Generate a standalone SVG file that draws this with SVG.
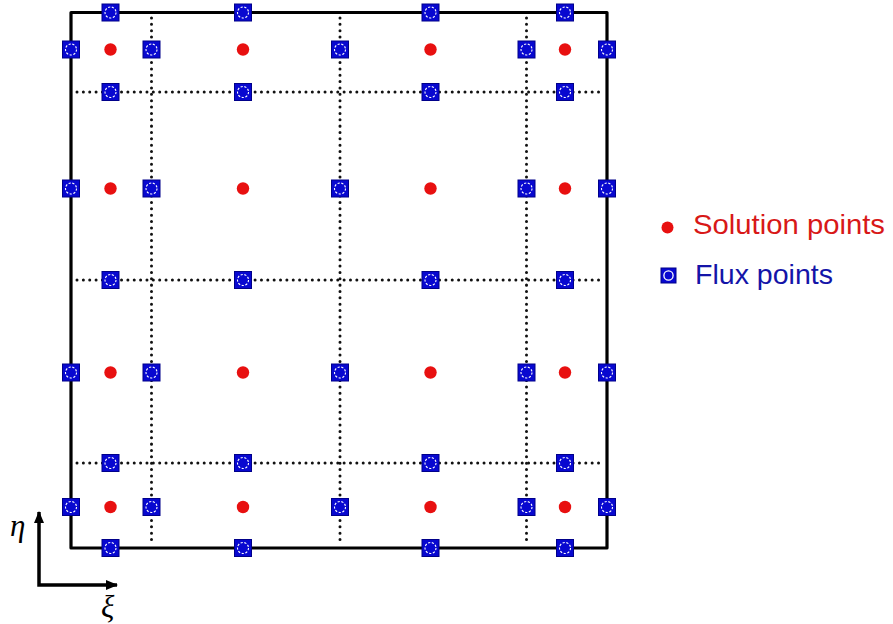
<svg xmlns="http://www.w3.org/2000/svg" xmlns:xlink="http://www.w3.org/1999/xlink" width="893" height="624" viewBox="0 0 893 624">
  <style>
    .sol { fill: #e81010; }
    .fluxsq { fill: #0808d0; stroke: #00008a; stroke-width: 1; }
    .fluxc { fill: none; stroke: #ffffff; stroke-width: 1.1; stroke-dasharray: 2.2 1.6; }
    .grid { fill: none; stroke: #111111; stroke-width: 3; stroke-linecap: round; stroke-dasharray: 0.01 6.35; }
    .border { fill: none; stroke: #000000; stroke-width: 3.2; stroke-linejoin: round; }
    .axis { fill: none; stroke: #000000; stroke-width: 3.5; }
    .leg { font-family: "Liberation Sans", Arial, sans-serif; font-size: 28px; }
    .greek { font-family: "Liberation Serif", "DejaVu Serif", serif; font-style: italic; font-size: 31px; fill: #000; }
  </style>
  <defs>
    <g id="flux">
      <rect class="fluxsq" x="-8.5" y="-8.5" width="17" height="17"/>
      <circle class="fluxc" cx="0" cy="0" r="5.5"/>
    </g>
    <marker id="arr" viewBox="0 0 12 10" refX="11" refY="5" markerWidth="12" markerHeight="10" markerUnits="userSpaceOnUse" orient="auto-start-reverse">
      <path d="M0,0 L12,5 L0,10 Z" fill="#000"/>
    </marker>
  </defs>
  <rect width="893" height="624" fill="#ffffff"/>

  <g id="connectors">
    <line class="grid" x1="151.5" y1="18" x2="151.5" y2="543"/>
    <line class="grid" x1="340" y1="18" x2="340" y2="543"/>
    <line class="grid" x1="526.5" y1="18" x2="526.5" y2="543"/>
    <line class="grid" x1="77" y1="92" x2="602" y2="92"/>
    <line class="grid" x1="77" y1="280" x2="602" y2="280"/>
    <line class="grid" x1="77" y1="463" x2="602" y2="463"/>
    <rect class="border" x="71" y="12.5" width="536" height="535.5"/>
    <polyline class="axis" points="39,512 39,585 117,585" marker-start="url(#arr)" marker-end="url(#arr)"/>
  </g>

  <g id="axis-labels">
    <text class="greek" x="10" y="536">η</text>
    <text class="greek" x="101" y="617">ξ</text>
  </g>

  <g id="solution-points">
    <g id="s11"><circle class="sol" cx="110.5" cy="49.5" r="6.2"/></g>
    <g id="s12"><circle class="sol" cx="243" cy="49.5" r="6.2"/></g>
    <g id="s13"><circle class="sol" cx="430.5" cy="49.5" r="6.2"/></g>
    <g id="s14"><circle class="sol" cx="565" cy="49.5" r="6.2"/></g>
    <g id="s21"><circle class="sol" cx="110.5" cy="188.5" r="6.2"/></g>
    <g id="s22"><circle class="sol" cx="243" cy="188.5" r="6.2"/></g>
    <g id="s23"><circle class="sol" cx="430.5" cy="188.5" r="6.2"/></g>
    <g id="s24"><circle class="sol" cx="565" cy="188.5" r="6.2"/></g>
    <g id="s31"><circle class="sol" cx="110.5" cy="372.5" r="6.2"/></g>
    <g id="s32"><circle class="sol" cx="243" cy="372.5" r="6.2"/></g>
    <g id="s33"><circle class="sol" cx="430.5" cy="372.5" r="6.2"/></g>
    <g id="s34"><circle class="sol" cx="565" cy="372.5" r="6.2"/></g>
    <g id="s41"><circle class="sol" cx="110.5" cy="507" r="6.2"/></g>
    <g id="s42"><circle class="sol" cx="243" cy="507" r="6.2"/></g>
    <g id="s43"><circle class="sol" cx="430.5" cy="507" r="6.2"/></g>
    <g id="s44"><circle class="sol" cx="565" cy="507" r="6.2"/></g>
  </g>

  <g id="flux-points">
    <g id="fh-0-1"><use xlink:href="#flux" href="#flux" x="110.5" y="12.5"/></g>
    <g id="fh-0-2"><use xlink:href="#flux" href="#flux" x="243" y="12.5"/></g>
    <g id="fh-0-3"><use xlink:href="#flux" href="#flux" x="430.5" y="12.5"/></g>
    <g id="fh-0-4"><use xlink:href="#flux" href="#flux" x="565" y="12.5"/></g>
    <g id="fh-1-1"><use xlink:href="#flux" href="#flux" x="110.5" y="92"/></g>
    <g id="fh-1-2"><use xlink:href="#flux" href="#flux" x="243" y="92"/></g>
    <g id="fh-1-3"><use xlink:href="#flux" href="#flux" x="430.5" y="92"/></g>
    <g id="fh-1-4"><use xlink:href="#flux" href="#flux" x="565" y="92"/></g>
    <g id="fh-2-1"><use xlink:href="#flux" href="#flux" x="110.5" y="280"/></g>
    <g id="fh-2-2"><use xlink:href="#flux" href="#flux" x="243" y="280"/></g>
    <g id="fh-2-3"><use xlink:href="#flux" href="#flux" x="430.5" y="280"/></g>
    <g id="fh-2-4"><use xlink:href="#flux" href="#flux" x="565" y="280"/></g>
    <g id="fh-3-1"><use xlink:href="#flux" href="#flux" x="110.5" y="463"/></g>
    <g id="fh-3-2"><use xlink:href="#flux" href="#flux" x="243" y="463"/></g>
    <g id="fh-3-3"><use xlink:href="#flux" href="#flux" x="430.5" y="463"/></g>
    <g id="fh-3-4"><use xlink:href="#flux" href="#flux" x="565" y="463"/></g>
    <g id="fh-4-1"><use xlink:href="#flux" href="#flux" x="110.5" y="548"/></g>
    <g id="fh-4-2"><use xlink:href="#flux" href="#flux" x="243" y="548"/></g>
    <g id="fh-4-3"><use xlink:href="#flux" href="#flux" x="430.5" y="548"/></g>
    <g id="fh-4-4"><use xlink:href="#flux" href="#flux" x="565" y="548"/></g>
    <g id="fv-1-0"><use xlink:href="#flux" href="#flux" x="71" y="49.5"/></g>
    <g id="fv-1-1"><use xlink:href="#flux" href="#flux" x="151.5" y="49.5"/></g>
    <g id="fv-1-2"><use xlink:href="#flux" href="#flux" x="340" y="49.5"/></g>
    <g id="fv-1-3"><use xlink:href="#flux" href="#flux" x="526.5" y="49.5"/></g>
    <g id="fv-1-4"><use xlink:href="#flux" href="#flux" x="607" y="49.5"/></g>
    <g id="fv-2-0"><use xlink:href="#flux" href="#flux" x="71" y="188.5"/></g>
    <g id="fv-2-1"><use xlink:href="#flux" href="#flux" x="151.5" y="188.5"/></g>
    <g id="fv-2-2"><use xlink:href="#flux" href="#flux" x="340" y="188.5"/></g>
    <g id="fv-2-3"><use xlink:href="#flux" href="#flux" x="526.5" y="188.5"/></g>
    <g id="fv-2-4"><use xlink:href="#flux" href="#flux" x="607" y="188.5"/></g>
    <g id="fv-3-0"><use xlink:href="#flux" href="#flux" x="71" y="372.5"/></g>
    <g id="fv-3-1"><use xlink:href="#flux" href="#flux" x="151.5" y="372.5"/></g>
    <g id="fv-3-2"><use xlink:href="#flux" href="#flux" x="340" y="372.5"/></g>
    <g id="fv-3-3"><use xlink:href="#flux" href="#flux" x="526.5" y="372.5"/></g>
    <g id="fv-3-4"><use xlink:href="#flux" href="#flux" x="607" y="372.5"/></g>
    <g id="fv-4-0"><use xlink:href="#flux" href="#flux" x="71" y="507"/></g>
    <g id="fv-4-1"><use xlink:href="#flux" href="#flux" x="151.5" y="507"/></g>
    <g id="fv-4-2"><use xlink:href="#flux" href="#flux" x="340" y="507"/></g>
    <g id="fv-4-3"><use xlink:href="#flux" href="#flux" x="526.5" y="507"/></g>
    <g id="fv-4-4"><use xlink:href="#flux" href="#flux" x="607" y="507"/></g>
  </g>

  <g id="legend">
    <g id="legend-solution">
      <circle class="sol" cx="667.5" cy="227.5" r="6"/>
      <text class="leg" x="693" y="234" fill="#d81818" textLength="192" lengthAdjust="spacingAndGlyphs">Solution points</text>
    </g>
    <g id="legend-flux">
      <rect class="fluxsq" x="661" y="268" width="15" height="15"/>
      <circle cx="668.5" cy="275.5" r="4.6" fill="none" stroke="#ffffff" stroke-width="1.3"/>
      <text class="leg" x="695" y="284" fill="#1414a8" textLength="138" lengthAdjust="spacingAndGlyphs">Flux points</text>
    </g>
  </g>
</svg>
